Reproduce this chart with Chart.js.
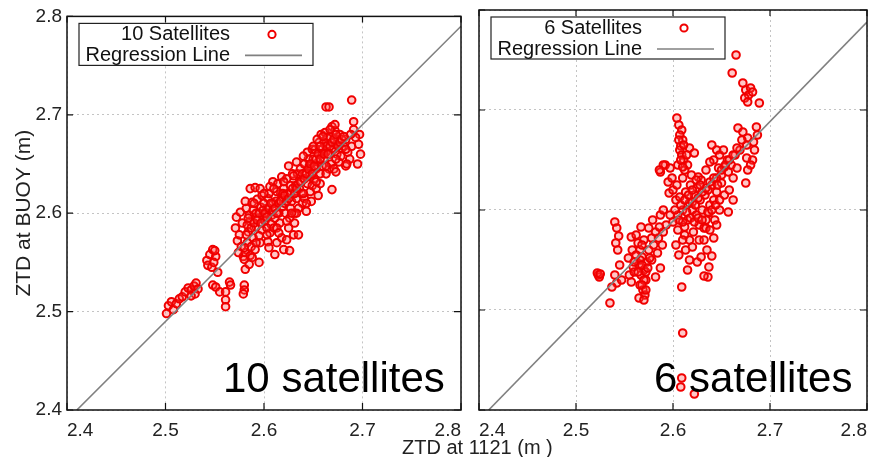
<!DOCTYPE html>
<html><head><meta charset="utf-8">
<script src="https://cdn.jsdelivr.net/npm/chart.js@4.4.1/dist/chart.umd.min.js"></script>
<style>
html,body{margin:0;padding:0;background:#fff;}
#wrap{position:relative;width:876px;height:457px;overflow:hidden;font-family:"Liberation Sans",Arial,sans-serif;}
.panel{position:absolute;top:0;height:457px;}
#p1{left:0;width:470px;}
#p2{left:470px;width:406px;}
.big{position:absolute;font-size:42px;line-height:42px;color:#000;white-space:nowrap;}
#xt{position:absolute;left:402px;top:437px;font-size:20px;line-height:20px;color:#222;white-space:nowrap;}
</style></head>
<body><div id="wrap">
<div class="panel" id="p1"><canvas id="c1"></canvas></div>
<div class="panel" id="p2"><canvas id="c2"></canvas></div>
<div class="big" style="left:223px;top:357px">10 satellites</div>
<div class="big" style="left:654px;top:357px">6 satellites</div>
<div id="xt">ZTD at 1121 (m )</div>
</div>
<script>
// ---------------- DATA ----------------
const xTicks = [2.4, 2.5, 2.6, 2.7, 2.8];
const yTicks = [2.4, 2.5, 2.6, 2.7, 2.8];
const yTitle = 'ZTD at BUOY (m)';
const label10 = '10 Satellites';
const label6 = '6 Satellites';
const regLabel = 'Regression Line';
const reg10X = [2.41, 2.80];
const reg10Y = [2.40, 2.79];
const reg6X = [2.41, 2.80];
const reg6Y = [2.40, 2.788];

const sat10 = [
[2.501,2.498],[2.503,2.506],[2.506,2.51],[2.508,2.502],[2.511,2.508],[2.514,2.513],[2.517,2.515],[2.52,2.52],[2.523,2.524],[2.526,2.522],[2.529,2.526],[2.531,2.529],[2.533,2.523],[2.53,2.518],[2.526,2.516],
[2.542,2.552],[2.545,2.558],[2.548,2.563],[2.551,2.556],[2.543,2.547],[2.547,2.545],[2.553,2.54],[2.549,2.55],[2.55,2.562],
[2.548,2.527],[2.551,2.525],[2.555,2.52],[2.561,2.52],[2.565,2.53],[2.566,2.527],[2.561,2.512],[2.561,2.505],[2.58,2.527],[2.58,2.522],[2.579,2.518],
[2.571,2.585],[2.573,2.572],[2.575,2.578],[2.577,2.566],[2.578,2.59],[2.572,2.596],[2.576,2.601],[2.579,2.556],[2.574,2.56],
[2.580,2.553],[2.581,2.543],[2.581,2.56],[2.583,2.57],[2.584,2.581],[2.586,2.557],[2.586,2.592],[2.582,2.605],[2.581,2.612],[2.586,2.625],[2.588,2.611],[2.585,2.598],[2.589,2.575],[2.587,2.566],[2.583,2.588],[2.589,2.603],[2.585,2.548],
[2.591,2.626],[2.596,2.625],[2.592,2.586],[2.595,2.55],[2.596,2.57],[2.594,2.595],[2.597,2.606],[2.598,2.583],[2.593,2.614],[2.599,2.595],[2.591,2.563],[2.598,2.618],[2.595,2.577],[2.592,2.6],
[2.601,2.592],[2.603,2.605],[2.606,2.627],[2.606,2.58],[2.604,2.615],[2.602,2.6],[2.608,2.598],[2.605,2.62],[2.609,2.61],[2.607,2.589],[2.603,2.585],[2.609,2.632],[2.604,2.571],[2.600,2.61],
[2.611,2.558],[2.613,2.57],[2.618,2.575],[2.615,2.6],[2.612,2.612],[2.617,2.62],[2.614,2.63],[2.619,2.607],[2.616,2.59],[2.611,2.595],[2.618,2.637],[2.613,2.622],[2.619,2.615],[2.61,2.585],
[2.62,2.563],[2.626,2.562],[2.623,2.573],[2.625,2.585],[2.621,2.61],[2.624,2.62],[2.627,2.628],[2.622,2.6],[2.628,2.612],[2.626,2.595],[2.629,2.64],[2.623,2.635],[2.627,2.605],[2.62,2.625],[2.625,2.648],
[2.630,2.578],[2.635,2.578],[2.631,2.6],[2.633,2.615],[2.636,2.625],[2.638,2.632],[2.632,2.628],[2.639,2.61],[2.634,2.64],[2.637,2.645],[2.631,2.59],[2.638,2.62],[2.635,2.605],[2.633,2.652],
[2.643,2.602],[2.641,2.615],[2.644,2.63],[2.646,2.638],[2.648,2.645],[2.642,2.64],[2.647,2.622],[2.649,2.628],[2.645,2.655],[2.641,2.65],[2.648,2.612],[2.644,2.662],[2.649,2.665],[2.646,2.648],
[2.651,2.635],[2.653,2.645],[2.655,2.652],[2.657,2.64],[2.659,2.66],[2.652,2.665],[2.656,2.672],[2.658,2.68],[2.654,2.675],[2.65,2.655],[2.659,2.648],[2.653,2.625],[2.657,2.63],[2.655,2.618],
[2.661,2.655],[2.663,2.662],[2.665,2.67],[2.667,2.678],[2.669,2.688],[2.662,2.682],[2.664,2.677],[2.666,2.645],[2.668,2.65],[2.669,2.624],[2.663,2.64],[2.667,2.66],[2.661,2.672],
[2.671,2.665],[2.673,2.67],[2.675,2.675],[2.677,2.68],[2.672,2.684],[2.674,2.66],[2.676,2.652],[2.678,2.658],[2.679,2.666],[2.671,2.645],[2.673,2.642],[2.672,2.69],[2.683,2.648],
[2.681,2.668],[2.683,2.675],[2.685,2.662],[2.687,2.655],[2.684,2.65],[2.689,2.668],[2.691,2.693],[2.691,2.685],[2.697,2.68],[2.696,2.67],[2.698,2.66],[2.695,2.65],[2.693,2.677],[2.688,2.68],
[2.663,2.708],[2.666,2.708],[2.689,2.715],
[2.582,2.578],[2.584,2.595],[2.587,2.585],[2.59,2.59],[2.593,2.593],[2.595,2.6],[2.597,2.59],[2.599,2.603],[2.601,2.6],[2.603,2.596],[2.605,2.605],[2.607,2.61],[2.609,2.603],[2.611,2.605],[2.613,2.6],[2.615,2.61],[2.617,2.612],[2.619,2.62],[2.621,2.618],[2.623,2.612],[2.625,2.615],[2.627,2.62],[2.629,2.625],[2.631,2.62],[2.633,2.625],[2.635,2.63],[2.637,2.632],[2.639,2.64],[2.641,2.635],[2.643,2.64],[2.645,2.645],[2.647,2.65],[2.649,2.64],[2.651,2.648],[2.653,2.655],[2.655,2.66],[2.657,2.655],[2.659,2.665],[2.661,2.66],[2.663,2.668],[2.665,2.66],[2.667,2.668],[2.669,2.672],[2.671,2.675],[2.673,2.68],[2.675,2.668],[2.677,2.672],[2.679,2.675],[2.681,2.678],[2.683,2.665],
[2.59,2.61],[2.6,2.62],[2.61,2.625],[2.62,2.632],[2.63,2.638],[2.64,2.658],[2.65,2.668],[2.66,2.678],[2.603,2.578],[2.613,2.585],[2.623,2.592],[2.633,2.6],[2.643,2.61],[2.653,2.632],[2.663,2.648],[2.673,2.655],[2.592,2.57],[2.58,2.565],[2.588,2.555],[2.64,2.62],[2.628,2.6],[2.615,2.58],[2.605,2.565],[2.657,2.668],[2.667,2.685]
];

const sat6 = [
[2.665,2.755],[2.661,2.737],[2.672,2.727],[2.675,2.72],[2.678,2.715],[2.674,2.712],[2.68,2.722],[2.677,2.708],[2.682,2.718],[2.689,2.707],
[2.604,2.692],[2.606,2.685],[2.609,2.68],[2.607,2.675],[2.61,2.67],[2.608,2.664],[2.607,2.66],[2.609,2.655],[2.611,2.65],[2.617,2.662],[2.622,2.657],[2.615,2.645],[2.612,2.64],[2.614,2.655],[2.605,2.645],[2.61,2.643],[2.626,2.633],[2.606,2.67],[2.611,2.665],[2.608,2.65],
[2.592,2.645],[2.597,2.642],[2.59,2.645],[2.587,2.638],[2.595,2.628],[2.596,2.617],[2.599,2.632],[2.586,2.64],
[2.667,2.682],[2.672,2.678],[2.677,2.672],[2.683,2.668],[2.687,2.675],[2.684,2.66],[2.682,2.65],[2.676,2.665],[2.671,2.67],[2.669,2.66],[2.676,2.652],[2.68,2.645],[2.677,2.64],[2.675,2.627],[2.686,2.683],
[2.64,2.665],[2.645,2.66],[2.648,2.655],[2.652,2.66],[2.656,2.65],[2.66,2.645],[2.664,2.655],[2.642,2.65],[2.647,2.642],[2.634,2.64],[2.638,2.648],[2.657,2.638],[2.662,2.632],[2.653,2.643],[2.666,2.642],[2.65,2.635],[2.645,2.632],
[2.6,2.62],[2.603,2.61],[2.607,2.613],[2.61,2.6],[2.605,2.595],[2.613,2.618],[2.617,2.607],[2.62,2.6],[2.615,2.59],[2.622,2.615],[2.625,2.622],[2.628,2.61],[2.624,2.595],[2.63,2.6],[2.633,2.615],[2.636,2.62],[2.64,2.625],[2.638,2.605],[2.642,2.61],[2.645,2.618],[2.648,2.6],[2.634,2.59],[2.627,2.585],[2.621,2.578],[2.612,2.583],[2.605,2.58],[2.618,2.625],[2.629,2.63],[2.632,2.582],[2.643,2.59],[2.65,2.627],[2.657,2.598],[2.662,2.61],[2.645,2.585],[2.634,2.582],[2.642,2.572],[2.627,2.57],[2.61,2.632],[2.604,2.625],[2.619,2.635],[2.624,2.63],[2.653,2.615],[2.658,2.62],[2.637,2.597],
[2.602,2.6],[2.608,2.605],[2.612,2.61],[2.616,2.615],[2.62,2.608],[2.623,2.605],[2.626,2.612],[2.63,2.618],[2.634,2.622],[2.638,2.628],[2.642,2.632],[2.646,2.625],[2.65,2.64],[2.654,2.645],[2.658,2.65],[2.662,2.655],[2.666,2.662],[2.614,2.598],[2.618,2.592],[2.622,2.588],[2.626,2.592],[2.63,2.59],[2.636,2.598],[2.64,2.6],[2.644,2.605],[2.648,2.61],[2.61,2.588],[2.606,2.59],[2.62,2.62],[2.628,2.625],[2.612,2.575],[2.617,2.57],[2.632,2.57],[2.638,2.58],
[2.587,2.595],[2.597,2.595],[2.59,2.6],[2.593,2.585],[2.6,2.588],
[2.61,2.57],[2.617,2.55],[2.625,2.548],[2.629,2.553],[2.635,2.56],[2.64,2.554],[2.637,2.543],[2.636,2.533],[2.632,2.534],[2.609,2.523],[2.613,2.56],[2.603,2.565],[2.62,2.563],[2.606,2.555],[2.615,2.54],
[2.579,2.59],[2.575,2.582],[2.567,2.583],[2.557,2.573],[2.554,2.552],[2.559,2.543],[2.587,2.542],[2.582,2.533],[2.564,2.567],[2.566,2.56],[2.568,2.553],[2.565,2.545],[2.57,2.54],[2.567,2.535],[2.572,2.53],[2.566,2.525],[2.569,2.52],[2.571,2.515],[2.565,2.512],[2.573,2.548],[2.575,2.56],[2.58,2.565],[2.585,2.572],[2.59,2.578],[2.562,2.575],[2.57,2.57],[2.558,2.56],[2.578,2.55],[2.584,2.557],[2.589,2.565],[2.555,2.535],[2.557,2.528],[2.56,2.538],[2.545,2.545],
[2.566,2.55],[2.568,2.545],[2.57,2.53],[2.568,2.525],[2.572,2.538],[2.574,2.542],[2.576,2.552],[2.564,2.538],[2.578,2.572],[2.582,2.578],[2.586,2.583],[2.568,2.565],[2.562,2.555],[2.56,2.548],[2.572,2.52],[2.57,2.51],
[2.54,2.588],[2.542,2.582],[2.544,2.574],[2.541,2.567],[2.543,2.56],[2.523,2.535],[2.524,2.533],[2.522,2.537],[2.525,2.536],[2.54,2.535],[2.542,2.527],[2.537,2.523],[2.535,2.507],[2.547,2.53],
[2.61,2.477],[2.609,2.432],[2.608,2.423],[2.622,2.416]
];

// ---------------- RENDER ----------------
const FONT = '"Liberation Sans", Arial, sans-serif';
const RED = '#f00000';
const GREY = '#808080';

const framePlugin = {
  id: 'frame',
  afterDatasetsDraw(chart) {
    const {ctx, chartArea: a, scales} = chart;
    ctx.save();
    ctx.strokeStyle = '#111';
    ctx.lineWidth = 1.5;
    ctx.strokeRect(a.left, a.top, a.right - a.left, a.bottom - a.top);
    ctx.lineWidth = 1.2;
    ctx.beginPath();
    scales.x.ticks.forEach(t => {
      const px = scales.x.getPixelForValue(t.value);
      ctx.moveTo(px, a.bottom); ctx.lineTo(px, a.bottom - 7);
      ctx.moveTo(px, a.top); ctx.lineTo(px, a.top + 6);
    });
    scales.y.ticks.forEach(t => {
      const py = scales.y.getPixelForValue(t.value);
      ctx.moveTo(a.left, py); ctx.lineTo(a.left + 6, py);
      ctx.moveTo(a.right, py); ctx.lineTo(a.right - 7, py);
    });
    ctx.stroke();
    ctx.restore();
  }
};

const legendPlugin = {
  id: 'boxLegend',
  afterDraw(chart) {
    const {ctx, chartArea: a} = chart;
    const ds = chart.data.datasets;
    const x = a.left + 12, y = a.top + 7, w = 234, h = 42;
    ctx.save();
    ctx.fillStyle = '#fff';
    ctx.fillRect(x, y, w, h);
    ctx.strokeStyle = '#222';
    ctx.lineWidth = 1.2;
    ctx.strokeRect(x, y, w, h);
    ctx.font = '20px ' + FONT;
    ctx.fillStyle = '#111';
    ctx.textAlign = 'right';
    ctx.textBaseline = 'middle';
    ctx.fillText(ds[0].label, x + 151, y + 11);
    ctx.fillText(ds[1].label, x + 151, y + 32);
    ctx.beginPath();
    ctx.arc(x + 193, y + 11, 3.6, 0, Math.PI * 2);
    ctx.strokeStyle = ds[0].borderColor;
    ctx.lineWidth = 2;
    ctx.stroke();
    ctx.beginPath();
    ctx.moveTo(x + 166, y + 32); ctx.lineTo(x + 223, y + 32);
    ctx.strokeStyle = ds[1].borderColor;
    ctx.lineWidth = 1.6;
    ctx.stroke();
    ctx.restore();
  }
};

function makeChart(canvasId, pts, label, regX, regY, showYLabels) {
  const scatterData = pts.map(p => ({x: p[0], y: p[1]}));
  const regData = regX.map((v, i) => ({x: v, y: regY[i]}));
  return new Chart(document.getElementById(canvasId), {
    type: 'scatter',
    data: {
      datasets: [
        {
          label: label, data: scatterData, order: 1,
          pointStyle: 'circle', pointRadius: 3.8, borderWidth: 2,
          borderColor: RED, backgroundColor: 'rgba(255,70,70,0.3)'
        },
        {
          type: 'line', label: regLabel, data: regData, order: 0,
          showLine: true, borderColor: GREY, borderWidth: 1.6, pointRadius: 0, fill: false
        }
      ]
    },
    options: {
      responsive: true, maintainAspectRatio: false, animation: false, events: [],
      layout: {padding: {top: 10, right: 3, left: 0, bottom: 0}},
      plugins: {legend: {display: false}, tooltip: {enabled: false}},
      scales: {
        x: {
          type: 'linear', min: 2.4, max: 2.8,
          afterBuildTicks: s => { s.ticks = xTicks.map(v => ({value: v})); },
          afterFit: s => { s.height = 47; },
          grid: {color: '#c4c4c4', lineWidth: 1, drawTicks: false},
          border: {display: false, dash: [2, 3]},
          ticks: {font: {size: 19, family: FONT}, color: '#222', padding: 9, align: 'inner',
                  maxRotation: 0, autoSkip: false, callback: v => Number(v).toFixed(1)}
        },
        y: {
          type: 'linear', min: 2.4, max: 2.8,
          afterBuildTicks: s => { s.ticks = yTicks.map(v => ({value: v})); },
          afterFit: s => { s.width = showYLabels ? 67 : 3; },
          grid: {color: '#c4c4c4', lineWidth: 1, drawTicks: false},
          border: {display: false, dash: [2, 3]},
          title: {display: showYLabels, text: yTitle, color: '#222',
                  font: {size: 21, family: FONT}, padding: {top: 12, bottom: 0}},
          ticks: {display: showYLabels, font: {size: 19, family: FONT}, color: '#222', padding: 5,
                  callback: v => Number(v).toFixed(1)}
        }
      }
    },
    plugins: [framePlugin, legendPlugin]
  });
}

makeChart('c1', sat10, label10, reg10X, reg10Y, true);
makeChart('c2', sat6, label6, reg6X, reg6Y, false);
</script>
</body></html>
